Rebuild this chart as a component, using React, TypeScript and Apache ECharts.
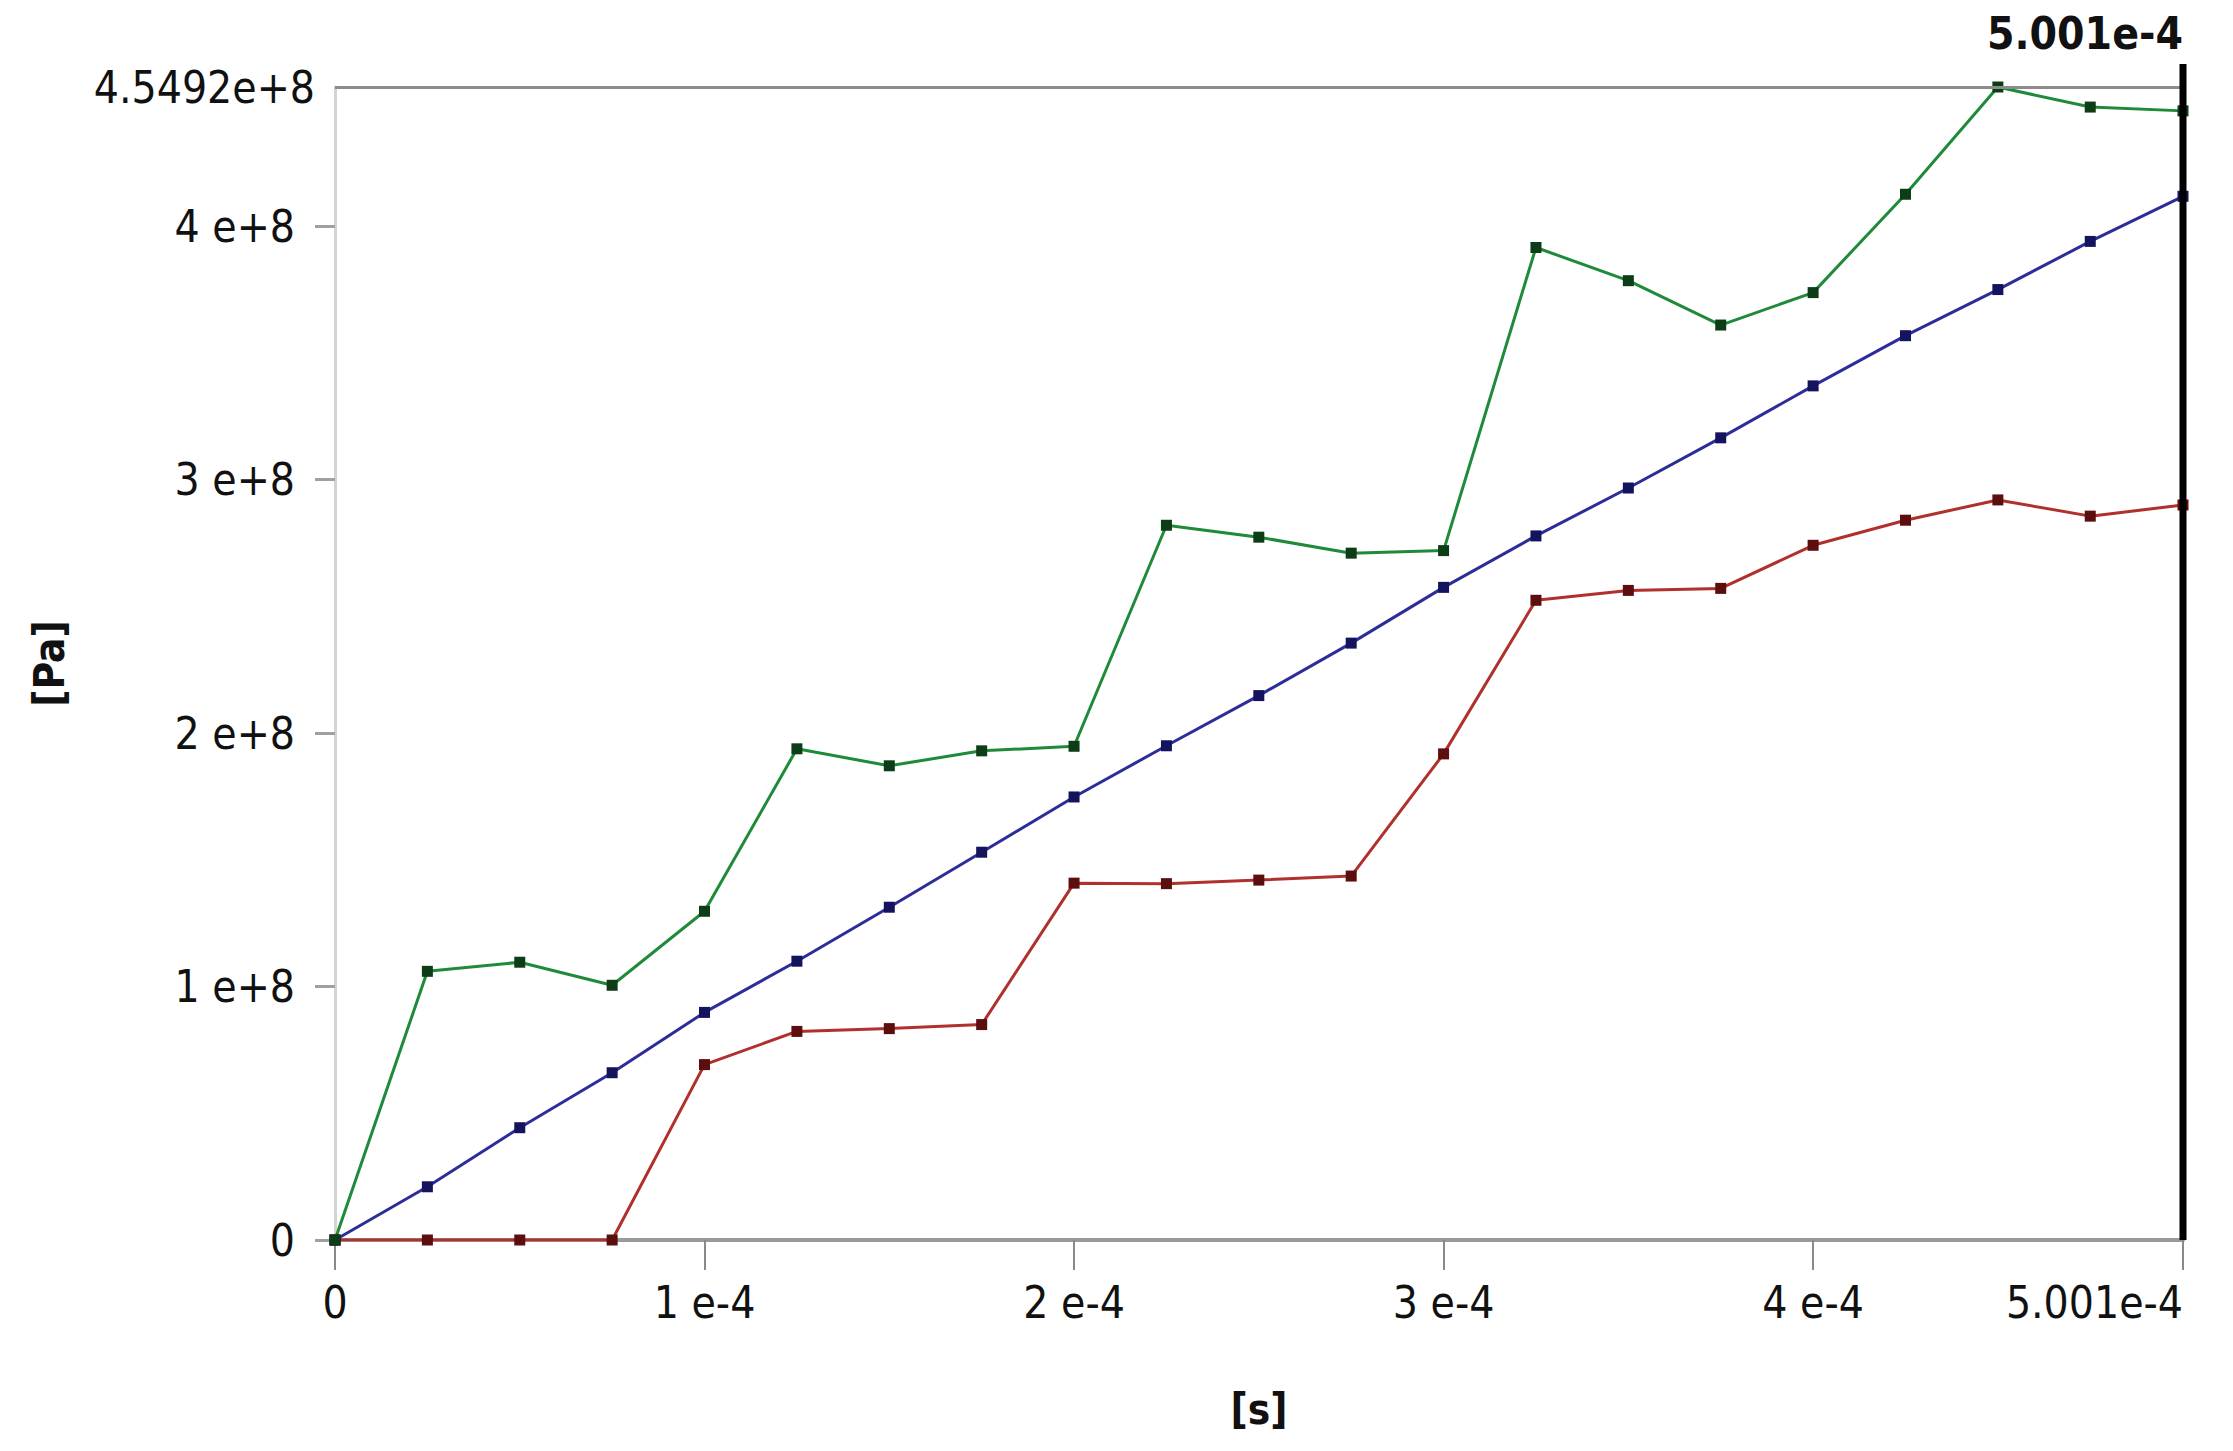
import React, { useEffect, useRef } from "react";
import * as echarts from "echarts";

// time points [s]
const times = [
  0, 2.5e-5, 5e-5, 7.5e-5, 1e-4, 1.25e-4, 1.5e-4, 1.75e-4, 2e-4, 2.25e-4, 2.5e-4,
  2.75e-4, 3e-4, 3.25e-4, 3.5e-4, 3.75e-4, 4e-4, 4.25e-4, 4.5e-4, 4.75e-4, 5.001e-4,
];

// [Pa]
const greenVals = [
  0, 1.06e8, 1.096e8, 1.005e8, 1.297e8, 1.938e8, 1.871e8, 1.93e8, 1.948e8, 2.82e8, 2.773e8,
  2.71e8, 2.72e8, 3.916e8, 3.785e8, 3.61e8, 3.738e8, 4.126e8, 4.5492e8, 4.47e8, 4.455e8,
];
const blueVals = [
  0, 0.21e8, 0.443e8, 0.66e8, 0.898e8, 1.1e8, 1.313e8, 1.53e8, 1.748e8, 1.95e8, 2.148e8,
  2.355e8, 2.575e8, 2.778e8, 2.967e8, 3.165e8, 3.37e8, 3.568e8, 3.75e8, 3.94e8, 4.118e8,
];
const redVals = [
  0, 0, 0, 0, 0.692e8, 0.823e8, 0.834e8, 0.85e8, 1.408e8, 1.406e8, 1.42e8,
  1.436e8, 1.918e8, 2.524e8, 2.563e8, 2.571e8, 2.741e8, 2.84e8, 2.92e8, 2.856e8, 2.9e8,
];

const xMax = 5.001e-4;
const yMax = 4.5492e8;
const xMaxLabel = "5.001e-4";
const yMaxLabel = "4.5492e+8";

const FONT = '"Liberation Sans Narrow", "DejaVu Sans Condensed", "DejaVu Sans", sans-serif';

function fmtX(v: number): string {
  if (v === 0) return "0";
  if (v >= 4.999e-4) return xMaxLabel;
  return `${Math.round(v / 1e-4)} e-4`;
}
function fmtY(v: number): string {
  if (v === 0) return "0";
  return `${Math.round(v / 1e8)} e+8`;
}

const pairs = (vals: number[]) => times.map((t, i) => [t, vals[i]]);

export default function App() {
  const ref = useRef<HTMLDivElement>(null);
  useEffect(() => {
    if (!ref.current) return;
    const chart = echarts.init(ref.current, null, { renderer: "svg" });
    const mkSeries = (name: string, vals: number[], line: string, mark: string, extra?: any) => ({
      name,
      type: "line",
      data: pairs(vals),
      symbol: "rect",
      symbolSize: 11,
      showSymbol: true,
      lineStyle: { color: line, width: 3 },
      itemStyle: { color: mark },
      z: 3,
      ...(extra || {}),
    });
    chart.setOption({
      animation: false,
      backgroundColor: "#ffffff",
      grid: { left: 335, right: 50, top: 87, bottom: 211, outerBoundsMode: "none" },
      xAxis: {
        type: "value",
        min: 0,
        max: xMax,
        interval: 1e-4,
        name: "[s]",
        nameLocation: "middle",
        nameGap: 148,
        nameTextStyle: { fontFamily: FONT, fontSize: 42, fontWeight: "bold", color: "#111" },
        axisLine: { show: true, lineStyle: { color: "#9a9a9a", width: 4 } },
        axisTick: { show: true, length: 30, lineStyle: { color: "#8a8a8a", width: 2 } },
        axisLabel: {
          formatter: fmtX,
          margin: 40,
          fontFamily: FONT,
          fontSize: 44,
          color: "#111",
          showMaxLabel: true,
          alignMaxLabel: "right",
          hideOverlap: false,
        },
        splitLine: { show: false },
      },
      yAxis: {
        type: "value",
        min: 0,
        max: yMax,
        interval: 1e8,
        name: "[Pa]",
        nameLocation: "middle",
        nameRotate: 90,
        nameGap: 265,
        nameTextStyle: { fontFamily: FONT, fontSize: 42, fontWeight: "bold", color: "#111" },
        axisLine: { show: true, lineStyle: { color: "#d4d4d4", width: 3 } },
        axisTick: { show: true, length: 20, lineStyle: { color: "#a0a0a0", width: 3 } },
        axisLabel: {
          formatter: fmtY,
          margin: 40,
          fontFamily: FONT,
          fontSize: 44,
          color: "#111",
          showMaxLabel: false,
        },
        splitLine: { show: false },
      },
      series: [
        mkSeries("red", redVals, "#b0302c", "#5c0d0d"),
        mkSeries("blue", blueVals, "#2d2d9a", "#14145e"),
        mkSeries("green", greenVals, "#1f8a3a", "#0d3d16", {
          markLine: {
            silent: true,
            symbol: "none",
            lineStyle: { color: "#8c8c8c", width: 3, type: "solid" },
            label: {
              show: true,
              position: "start",
              distance: 20,
              formatter: yMaxLabel,
              fontFamily: FONT,
              fontSize: 44,
              color: "#111",
            },
            data: [{ yAxis: yMax }],
          },
        }),
      ],
    });
    const top = chart.convertToPixel({ xAxisIndex: 0, yAxisIndex: 0 }, [xMax, yMax]) as number[];
    const bot = chart.convertToPixel({ xAxisIndex: 0, yAxisIndex: 0 }, [xMax, 0]) as number[];
    chart.setOption({
      graphic: [
        {
          type: "line",
          shape: { x1: top[0], y1: top[1] - 23, x2: bot[0], y2: bot[1] },
          style: { stroke: "#000", lineWidth: 7 },
          z: 10,
        },
        {
          type: "text",
          x: top[0],
          y: top[1] - 32,
          style: {
            text: xMaxLabel,
            fontFamily: FONT,
            fontSize: 44,
            fontWeight: "bold",
            fill: "#111",
            textAlign: "right",
            textVerticalAlign: "bottom",
          },
          z: 10,
        },
      ],
    });
    return () => chart.dispose();
  }, []);
  return (
    <div
      ref={ref}
      style={{ position: "absolute", left: 0, top: 0, width: 2233, height: 1451, background: "#fff" }}
    />
  );
}
